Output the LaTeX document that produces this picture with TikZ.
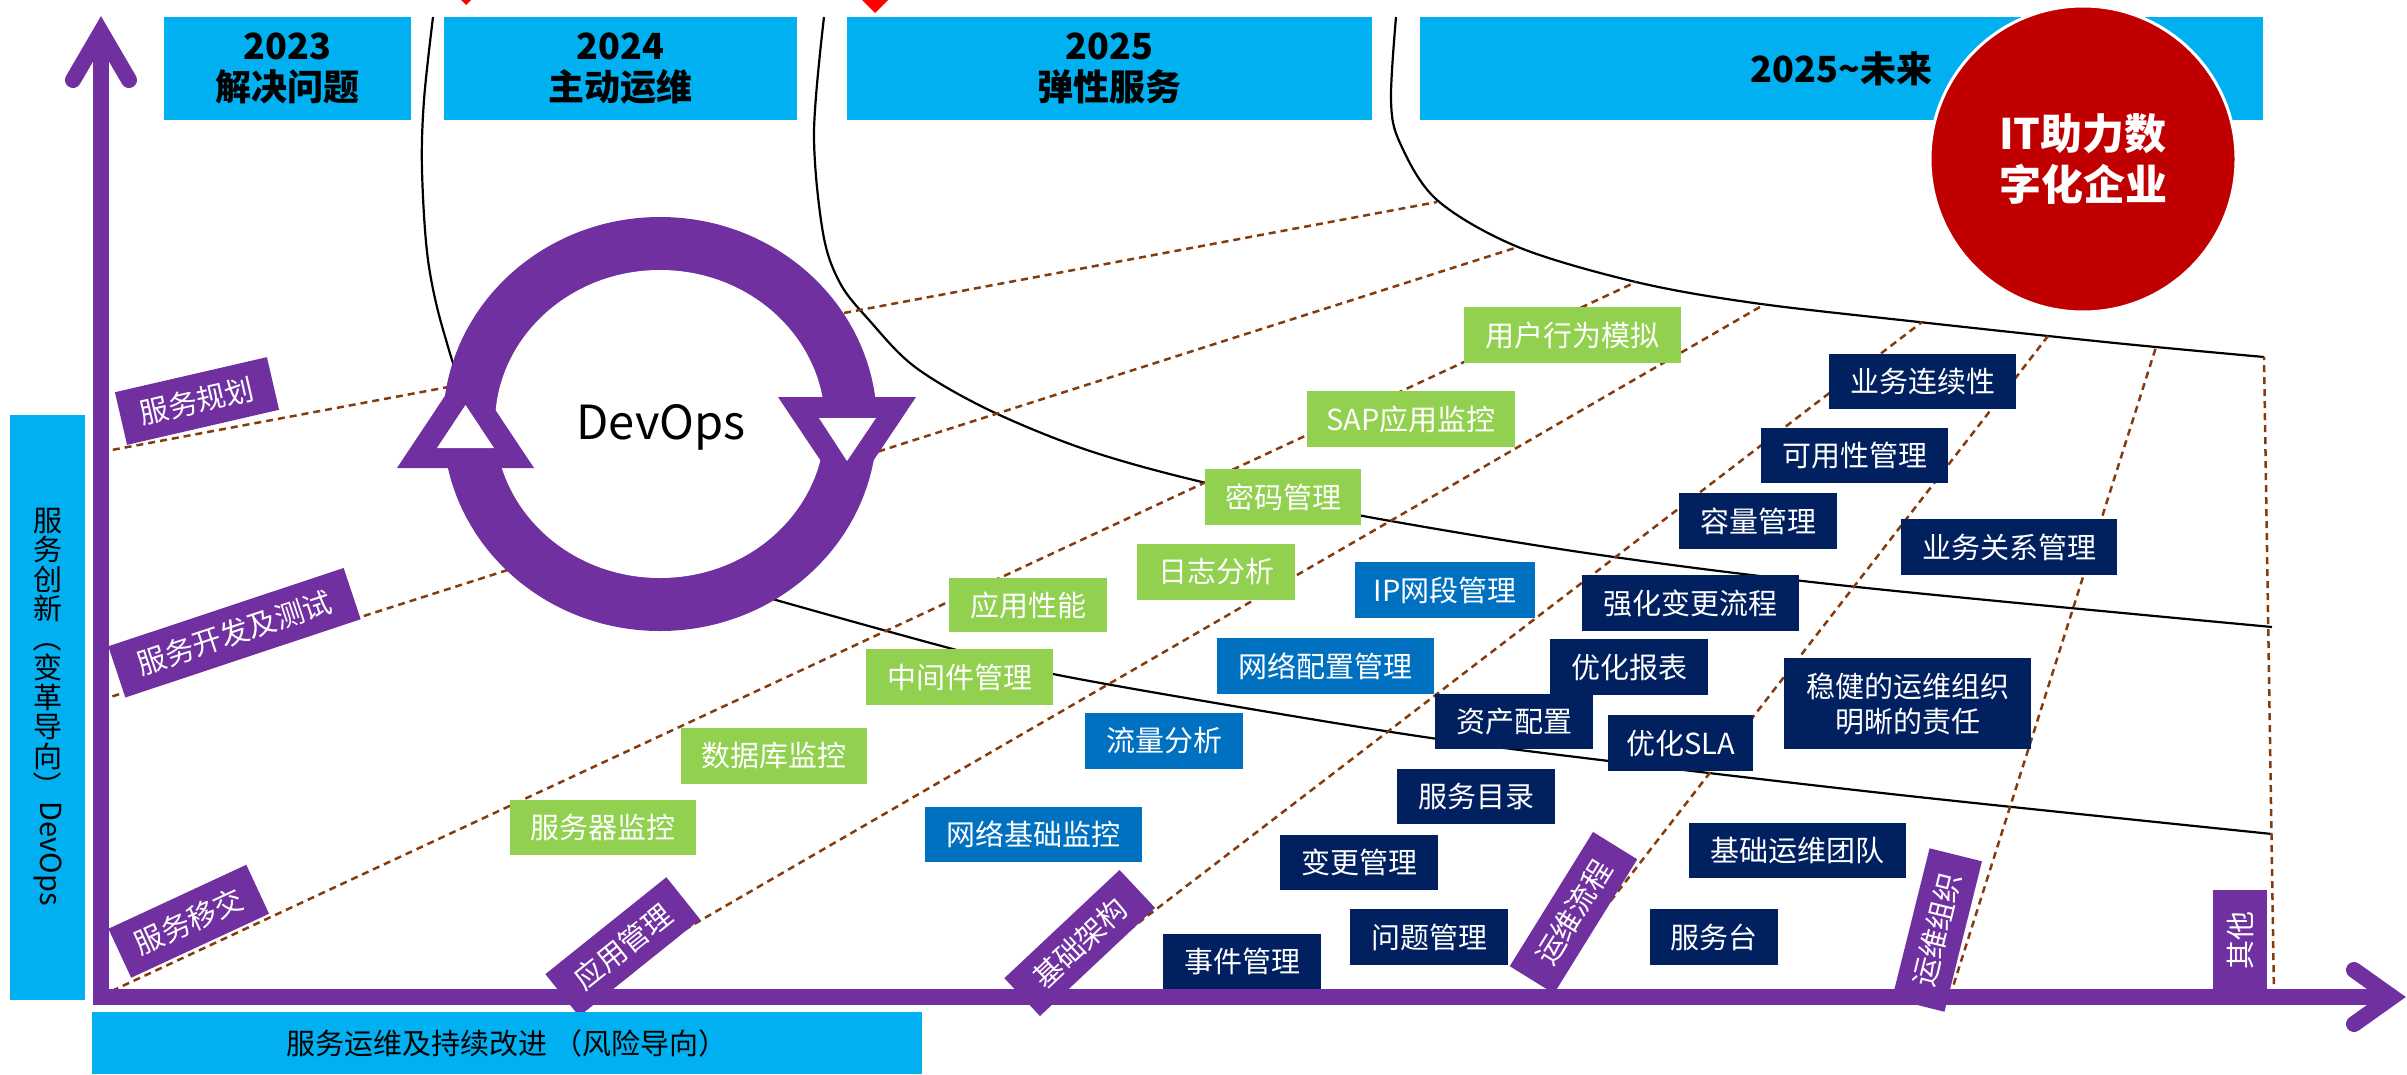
\documentclass[tikz,border=0pt]{standalone}
\usepackage{fontspec}
\setmainfont{Noto Sans CJK SC}
\usepackage{graphicx}
\definecolor{ccyan}{HTML}{00B0F0}
\definecolor{cgreen}{HTML}{92D050}
\definecolor{cblue}{HTML}{0070C0}
\definecolor{cnavy}{HTML}{002060}
\definecolor{cpurple}{HTML}{7030A0}
\definecolor{cred}{HTML}{C00000}
\definecolor{cbrown}{HTML}{843C0C}
\definecolor{cred2}{HTML}{FF0000}
\newcommand\fsz[2]{\fontsize{#1}{#2}\selectfont}
\newcommand\vch[1]{\hbox to 30pt{\hss#1\hss}}
\begin{document}
\begin{tikzpicture}[x=1pt,y=-1pt,
  yearbox/.style={fill=ccyan, inner sep=0pt, text=black, align=center, font=\fsz{36}{41}\bfseries, minimum height=103pt},
  tbox/.style={inner sep=0pt, text=white, align=center, font=\fsz{29}{35}},
  gbox/.style={tbox, fill=cgreen},
  bluebox/.style={tbox, fill=cblue},
  nbox/.style={tbox, fill=cnavy},
  plabel/.style={tbox, fill=cpurple, minimum height=54pt},
  curveline/.style={draw=black, line width=2.2pt},
  dline/.style={draw=cbrown, line width=2.5pt, dash pattern=on 7pt off 5pt},
  axisline/.style={draw=cpurple, line width=16pt}
]
\useasboundingbox (0,0) rectangle (2407,1074);

% year boxes
\node[yearbox, minimum width=247pt] (y23) at (287.5,68.5) {2023\\解决问题};
\node[yearbox, minimum width=353pt] (y24) at (620.5,68.5) {2024\\主动运维};
\node[yearbox, minimum width=525pt] (y25) at (1109.5,68.5) {2025\\弹性服务};
\node[yearbox, minimum width=843pt] (yf) at (1841.5,68.5) {2025\char`\~未来};

% red marks at top
\fill[cred2] (461,0) -- (471,0) -- (466,5) -- cycle;
\fill[cred2] (862,0) -- (888,0) -- (875,13) -- cycle;

% goal circle
\node[circle, fill=cred, draw=white, line width=3pt, minimum size=306pt, inner sep=0pt, text=white, align=center, font=\fsz{42}{51}\bfseries] (goal) at (2083,159) {IT助力数\\字化企业};

% curves
\draw[curveline] plot[smooth, tension=0.55] coordinates {(433,17) (424,100) (422,170) (428,260) (444,333) (470,400) (540,490) (640,560) (776,600) (949,648) (1053,674) (1245,708) (1431,738) (1609,761) (1900,795) (2272,834)};
\draw[curveline] plot[smooth, tension=0.55] coordinates {(824,17) (814,133) (823,233) (840,283) (869,320) (915,367) (989,410) (1087,450) (1202,482) (1363,516) (1600,555) (1857,587) (2272,627)};
\draw[curveline] plot[smooth, tension=0.55] coordinates {(1396,17) (1391,100) (1400,143) (1437,200) (1518,247) (1636,282) (1754,303) (1919,322) (2115,343) (2264,357)};

% dashed lines
\coordinate (d1a) at (101,452);  \coordinate (d1b) at (1437,202);
\coordinate (d2a) at (101,700);  \coordinate (d2b) at (1518,247);
\coordinate (d3a) at (101,996);  \coordinate (d3b) at (1636,282);
\coordinate (d4a) at (570,996);  \coordinate (d4b) at (1765,304);
\coordinate (d5a) at (1043,996); \coordinate (d5b) at (1922,322);
\coordinate (d6a) at (1537,996); \coordinate (d6b) at (2048,336);
\coordinate (d7a) at (1950,996); \coordinate (d7b) at (2156,347);
\coordinate (d8a) at (2274,996); \coordinate (d8b) at (2264,357);
\foreach \i in {1,...,8} {\draw[dline] (d\i a) -- (d\i b);}

% DevOps ring
\fill[cpurple] (660,424) ellipse [x radius=217, y radius=207];
\fill[white] (660,424) ellipse [x radius=165, y radius=154];
\fill[cpurple] (397,468) -- (534,468) -- (465.5,365) -- cycle;
\fill[white] (437,448) -- (494,448) -- (465.5,405) -- cycle;
\fill[cpurple] (778,397) -- (916,397) -- (847,500) -- cycle;
\fill[white] (819,418) -- (876,418) -- (847,461) -- cycle;
\node[font=\fsz{47}{56}] (devops) at (661,427) {DevOps};

% green boxes
\node[gbox, minimum width=217pt, minimum height=56pt] (g1) at (1572.5,335) {用户行为模拟};
\node[gbox, minimum width=208pt, minimum height=56pt] (g2) at (1411,419) {SAP应用监控};
\node[gbox, minimum width=156pt, minimum height=56pt] (g3) at (1283,497) {密码管理};
\node[gbox, minimum width=158pt, minimum height=56pt] (g4) at (1216,572) {日志分析};
\node[gbox, minimum width=158pt, minimum height=54pt] (g5) at (1028,605) {应用性能};
\node[gbox, minimum width=187pt, minimum height=56pt] (g6) at (959.5,677) {中间件管理};
\node[gbox, minimum width=186pt, minimum height=56pt] (g7) at (774,756) {数据库监控};
\node[gbox, minimum width=186pt, minimum height=55pt] (g8) at (603,827.5) {服务器监控};

% blue boxes
\node[bluebox, minimum width=180pt, minimum height=56pt] (b1) at (1445,590) {IP网段管理};
\node[bluebox, minimum width=217pt, minimum height=56pt] (b2) at (1325.5,666) {网络配置管理};
\node[bluebox, minimum width=158pt, minimum height=56pt] (b3) at (1164,741) {流量分析};
\node[bluebox, minimum width=217pt, minimum height=55pt] (b4) at (1033.5,834.5) {网络基础监控};

% navy boxes
\node[nbox, minimum width=187pt, minimum height=55pt] (n1) at (1922.5,381.5) {业务连续性};
\node[nbox, minimum width=187pt, minimum height=55pt] (n2) at (1854.5,455.5) {可用性管理};
\node[nbox, minimum width=158pt, minimum height=56pt] (n3) at (1758,521) {容量管理};
\node[nbox, minimum width=216pt, minimum height=56pt] (n4) at (2009,547) {业务关系管理};
\node[nbox, minimum width=217pt, minimum height=56pt] (n5) at (1690.5,603) {强化变更流程};
\node[nbox, minimum width=158pt, minimum height=56pt] (n6) at (1629,667) {优化报表};
\node[nbox, minimum width=158pt, minimum height=55pt] (n7) at (1514,721.5) {资产配置};
\node[nbox, minimum width=145pt, minimum height=56pt] (n8) at (1680.5,743) {优化SLA};
\node[nbox, minimum width=247pt, minimum height=91pt] (n9) at (1907.5,703.5) {稳健的运维组织\\明晰的责任};
\node[nbox, minimum width=158pt, minimum height=55pt] (n10) at (1476,796.5) {服务目录};
\node[nbox, minimum width=158pt, minimum height=55pt] (n11) at (1359,862.5) {变更管理};
\node[nbox, minimum width=217pt, minimum height=55pt] (n12) at (1797.5,850.5) {基础运维团队};
\node[nbox, minimum width=158pt, minimum height=56pt] (n13) at (1429,937) {问题管理};
\node[nbox, minimum width=128pt, minimum height=56pt] (n14) at (1714,937) {服务台};
\node[nbox, minimum width=158pt, minimum height=55pt] (n15) at (1242,961.5) {事件管理};

% axes
\coordinate (ytip) at (101,32);
\coordinate (orig) at (101,997);
\coordinate (xtip) at (2392,997);
\coordinate (yw1) at (73,80);   \coordinate (yw2) at (129,80);
\coordinate (xw1) at (2354,970); \coordinate (xw2) at (2354,1024);
\draw[axisline, line join=miter] (ytip) -- (orig) -- (xtip);
\draw[axisline, line cap=round, line join=miter] (yw1) -- (ytip) -- (yw2);
\draw[axisline, line cap=round, line join=miter] (xw1) -- (xtip) -- (xw2);

% purple labels
\node[plabel, rotate=13, minimum width=156pt] (lgh) at (197,401) {服务规划};
\node[plabel, rotate=18.4, minimum width=248pt] (lkf) at (234.5,632.75) {服务开发及测试};
\node[plabel, rotate=24.9, minimum width=152pt] (lyj) at (188.75,921.25) {服务移交};
\node[plabel, rotate=38.7, minimum width=155pt] (lyy) at (622.75,946.75) {应用管理};
\node[plabel, rotate=43.2, minimum width=158pt, minimum height=52pt] (ljc) at (1079.75,943) {基础架构};
\node[plabel, rotate=58.2, minimum width=158pt, minimum height=52pt] (lyl) at (1573.5,912.75) {运维流程};
\node[plabel, rotate=76, minimum width=155pt] (lzz) at (1937,930) {运维组织};
\node[plabel, rotate=90, minimum width=100pt] (lqt) at (2240,940) {其他};

% side boxes
\node[fill=ccyan, minimum width=75pt, minimum height=585pt, inner sep=0pt] (lbox) at (47.5,707) {\vbox{\fsz{29}{29.5}\lineskip=1pt\lineskiplimit=0pt
 \vch{服}\vch{务}\vch{创}\vch{新}\vch{\rotatebox[origin=c]{-90}{（}}\vch{变}\vch{革}\vch{导}\vch{向}\vch{\rotatebox[origin=c]{-90}{）}}\vch{\rotatebox[origin=c]{-90}{DevOps}}}};
\node[fill=ccyan, minimum width=830pt, minimum height=62pt, inner sep=0pt, font=\fsz{29}{35}] (botbox) at (507,1043) {服务运维及持续改进 （风险导向）};
\end{tikzpicture}
\end{document}
